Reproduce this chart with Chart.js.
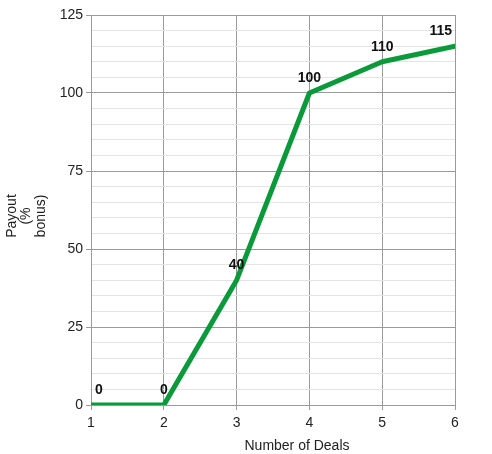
<!DOCTYPE html>
<html>
<head>
<meta charset="utf-8">
<script src="https://cdn.jsdelivr.net/npm/chart.js@4/dist/chart.umd.min.js"></script>
<style>
  html, body { margin: 0; padding: 0; background: #fff; }
  #wrap { width: 492px; height: 454px; position: relative; }
</style>
</head>
<body>
<div id="wrap"><canvas id="c"></canvas></div>
<script>
const deals  = [1, 2, 3, 4, 5, 6];
const payout = [0, 0, 40, 100, 110, 115];
const xTitle = 'Number of Deals';
const yTitle = ['Payout', '(%', 'bonus)'];

const major = '#9a9a9a';
const minor = '#e4e4e4';
const font  = 'Liberation Sans, Arial, sans-serif';

/* point labels, kept inside the plot area */
const valueLabels = {
    id: 'valueLabels',
    afterDatasetsDraw(chart) {
        const { ctx, chartArea } = chart;
        const meta = chart.getDatasetMeta(0);
        ctx.save();
        ctx.font = 'bold 14px ' + font;
        ctx.fillStyle = '#111';
        ctx.textBaseline = 'bottom';
        ctx.textAlign = 'center';
        meta.data.forEach((pt, i) => {
            const txt = String(payout[i]);
            const w = ctx.measureText(txt).width;
            let x = pt.x;
            if (i === 0) x = Math.max(x, chartArea.left + w / 2 + 4);
            x = Math.min(x, chartArea.right - w / 2 - 3);
            ctx.fillText(txt, x, pt.y - 8);
        });
        ctx.restore();
    }
};

/* axis titles drawn by hand: the original puts them off-centre */
const axisTitles = {
    id: 'axisTitles',
    afterDraw(chart) {
        const { ctx, chartArea } = chart;
        ctx.save();
        ctx.font = '14px ' + font;
        ctx.fillStyle = '#222';
        ctx.textAlign = 'center';
        ctx.textBaseline = 'middle';
        ctx.fillText(xTitle, (chartArea.left + chartArea.right) / 2 + 24, 446);
        ctx.translate(0, 216);
        ctx.rotate(-Math.PI / 2);
        yTitle.forEach((line, i) => ctx.fillText(line, 0, 12 + i * 14.5));
        ctx.restore();
    }
};

new Chart(document.getElementById('c'), {
    type: 'line',
    data: {
        datasets: [{
            data: deals.map((d, i) => ({ x: d, y: payout[i] })),
            borderColor: '#0a9a3a',
            borderWidth: 5,
            pointRadius: 0,
            tension: 0,
            fill: false,
            borderCapStyle: 'round',
            borderJoinStyle: 'round'
        }]
    },
    options: {
        responsive: true,
        maintainAspectRatio: false,
        animation: false,
        layout: { padding: { top: 15, right: 37, left: 0, bottom: 0 } },
        plugins: { legend: { display: false }, tooltip: { enabled: false } },
        scales: {
            x: {
                type: 'linear',
                min: 1, max: 6,
                ticks: { stepSize: 1, color: '#222', font: { size: 14, family: font }, padding: 5 },
                grid: { color: major, tickLength: 5 },
                border: { color: major },
                afterFit(s) { s.height = 49; }
            },
            y: {
                min: 0, max: 125,
                ticks: {
                    stepSize: 5,
                    autoSkip: false,
                    color: '#222',
                    font: { size: 14, family: font },
                    padding: 3,
                    callback: v => (v % 25 === 0 ? v : '')
                },
                grid: {
                    color: c => (c.tick && c.tick.value % 25 === 0 ? major : minor),
                    tickColor: c => (c.tick && c.tick.value % 25 === 0 ? major : 'rgba(0,0,0,0)'),
                    tickLength: 5
                },
                border: { color: major },
                afterFit(s) { s.width = 91; }
            }
        }
    },
    plugins: [valueLabels, axisTitles]
});
</script>
</body>
</html>
